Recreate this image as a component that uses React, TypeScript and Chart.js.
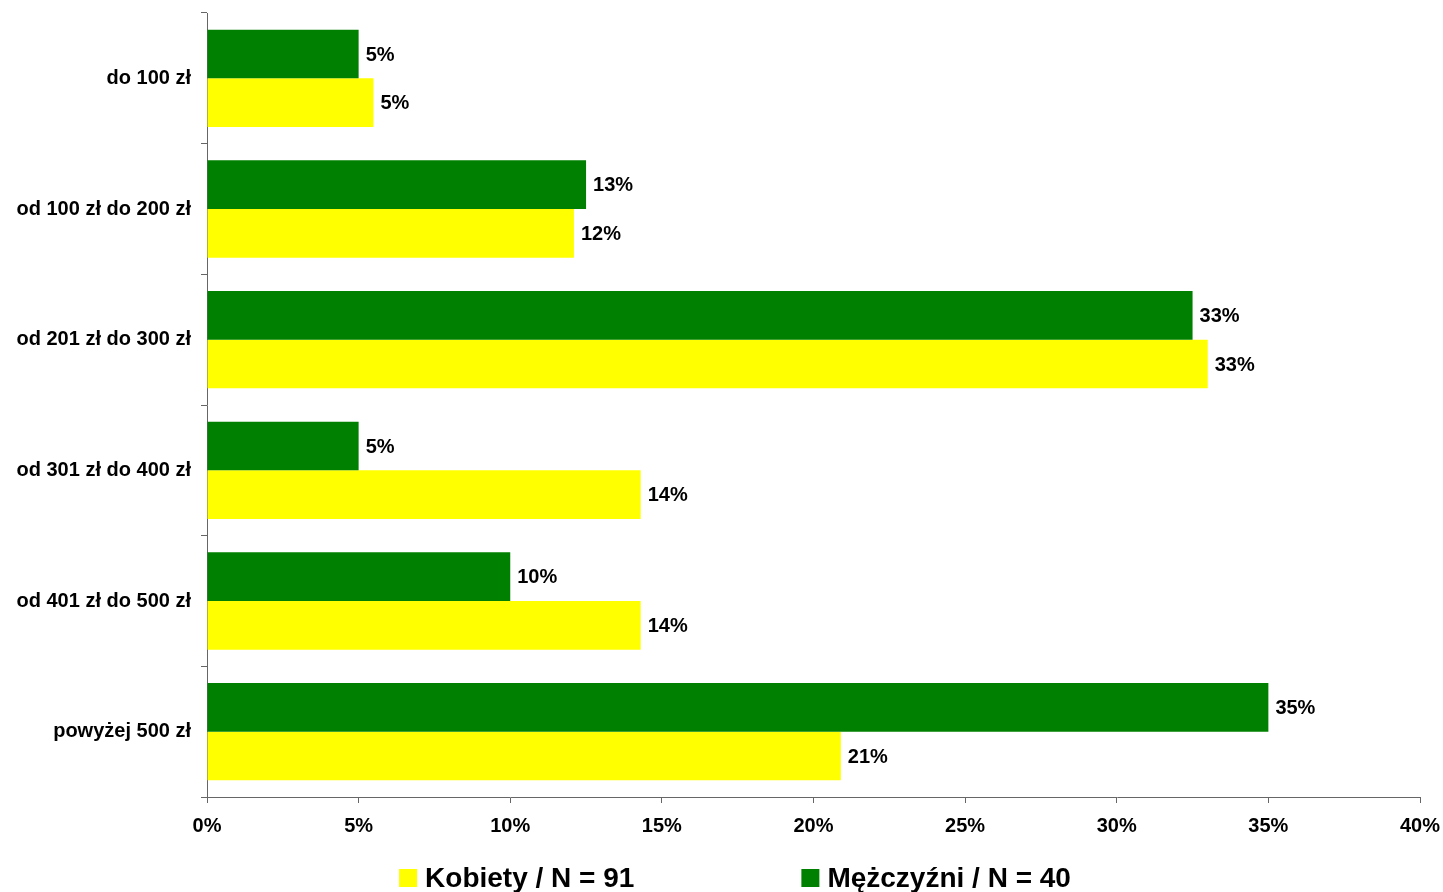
import React, { useEffect, useRef } from "react";
import { Chart, registerables } from "chart.js";

Chart.register(...registerables);

const categories = [
  "do 100 zł",
  "od 100 zł do 200 zł",
  "od 201 zł do 300 zł",
  "od 301 zł do 400 zł",
  "od 401 zł do 500 zł",
  "powyżej 500 zł",
];
const menLabel = "Mężczyźni / N = 40";
const womenLabel = "Kobiety / N = 91";
const menValues = [5, 12.5, 32.5, 5, 10, 35];
const womenValues = [5.49, 12.1, 33.0, 14.3, 14.3, 20.9];
const xTicks = [0, 5, 10, 15, 20, 25, 30, 35, 40];

const FONT = "'Liberation Sans', Arial, sans-serif";

const valueLabelPlugin = {
  id: "valueLabels",
  afterDatasetsDraw(chart: any) {
    const ctx = chart.ctx;
    ctx.save();
    ctx.font = `bold 20px ${FONT}`;
    ctx.fillStyle = "#000";
    ctx.textAlign = "left";
    ctx.textBaseline = "middle";
    chart.data.datasets.forEach((ds: any, di: number) => {
      const meta = chart.getDatasetMeta(di);
      meta.data.forEach((bar: any, i: number) => {
        const v = ds.data[i];
        ctx.fillText(Math.round(v) + "%", bar.x + 7, bar.y + 1);
      });
    });
    ctx.restore();
  },
};

const legendPlugin = {
  id: "customLegend",
  afterDraw(chart: any) {
    const ctx = chart.ctx;
    const items = chart.data.datasets
      .map((ds: any) => ({ text: ds.label, color: ds.backgroundColor }))
      .reverse();
    ctx.save();
    ctx.font = `bold 28px ${FONT}`;
    const box = 18;
    const gapBoxText = 8;
    const itemGap = 167;
    const widths = items.map((it: any) => box + gapBoxText + ctx.measureText(it.text).width);
    const total = widths.reduce((a: number, b: number) => a + b, 0) + itemGap * (items.length - 1);
    let x = 735 - total / 2;
    const y = 878;
    items.forEach((it: any, i: number) => {
      ctx.fillStyle = it.color;
      ctx.fillRect(x, y - box / 2, box, box);
      ctx.fillStyle = "#000";
      ctx.textAlign = "left";
      ctx.textBaseline = "middle";
      ctx.fillText(it.text, x + box + gapBoxText, y + 1);
      x += widths[i] + itemGap;
    });
    ctx.restore();
  },
};

export default function App() {
  const ref = useRef<HTMLCanvasElement | null>(null);
  useEffect(() => {
    if (!ref.current) return;
    const chart = new Chart(ref.current, {
      type: "bar",
      data: {
        labels: categories,
        datasets: [
          {
            label: menLabel,
            data: menValues,
            backgroundColor: "#008000",
            categoryPercentage: 0.745,
            barPercentage: 1,
          },
          {
            label: womenLabel,
            data: womenValues,
            backgroundColor: "#FFFF00",
            categoryPercentage: 0.745,
            barPercentage: 1,
          },
        ],
      },
      options: {
        indexAxis: "y",
        responsive: true,
        maintainAspectRatio: false,
        animation: false,
        layout: { padding: { top: 13, right: 23, bottom: 50, left: 0 } },
        plugins: {
          legend: { display: false },
          tooltip: { enabled: false },
        },
        scales: {
          x: {
            type: "linear",
            min: 0,
            max: 40,
            afterBuildTicks: (scale: any) => {
              scale.ticks = xTicks.map((v) => ({ value: v }));
            },
            afterFit: (scale: any) => {
              scale.height = 45;
              scale.paddingLeft = 0;
              scale.paddingRight = 0;
              scale.paddingTop = 0;
              scale.paddingBottom = 0;
            },
            ticks: {
              callback: (v: any) => v + "%",
              font: { family: FONT, size: 20, weight: "bold" },
              color: "#000",
              padding: 11,
              maxRotation: 0,
            },
            grid: {
              drawOnChartArea: false,
              drawTicks: true,
              tickLength: 6,
              color: "#666",
            },
            border: { color: "#666", width: 1 },
          },
          y: {
            type: "category",
            afterFit: (scale: any) => {
              scale.width = 207;
              scale.paddingLeft = 0;
              scale.paddingRight = 0;
              scale.paddingTop = 0;
              scale.paddingBottom = 0;
            },
            ticks: {
              font: { family: FONT, size: 20, weight: "bold" },
              color: "#000",
              padding: 10,
            },
            grid: {
              offset: true,
              drawOnChartArea: false,
              drawTicks: true,
              tickLength: 6,
              color: "#666",
            },
            border: { color: "#666", width: 1 },
          },
        },
      },
      plugins: [valueLabelPlugin, legendPlugin],
    } as any);
    return () => chart.destroy();
  }, []);
  return (
    <div style={{ position: "fixed", left: 0, top: 0, width: 1443, height: 892, background: "#fff" }}>
      <canvas ref={ref} />
    </div>
  );
}
